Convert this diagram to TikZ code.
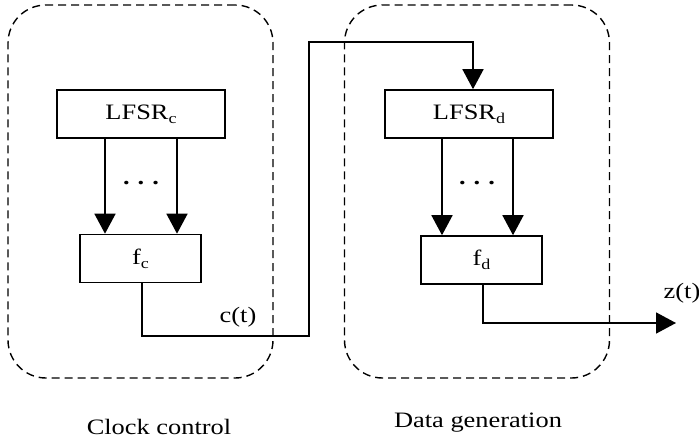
\documentclass[tikz,border=0pt]{standalone}
\usepackage{fontspec}
\setmainfont[FakeStretch=1.2]{Liberation Serif}
\usetikzlibrary{arrows.meta}
\newcommand{\lowsub}[1]{\raisebox{-0.4ex}{\fontsize{15}{15}\selectfont #1}}
\begin{document}
\begin{tikzpicture}[x=1pt,y=-1pt,
  font=\fontsize{22}{26}\selectfont,
  wire/.style={line width=1.6pt},
  arr/.style={wire,-{Triangle[width=21pt,length=20pt]}},
  blockbox/.style={draw,line width=1.6pt,minimum height=48pt,inner sep=0pt},
  groupbox/.style={draw,line width=1.4pt,dash pattern=on 8pt off 5pt,rounded corners=38pt,
    minimum width=265pt,minimum height=373pt,inner sep=0pt},
  lbl/.style={inner sep=0pt}]
\useasboundingbox (0,0) rectangle (699,441);

% dashed groups
\node[groupbox] (clkgrp) at (140.5,191.5) {};
\node[groupbox] (datgrp) at (477,191.5) {};

% blocks
\node[blockbox,minimum width=168pt] (lfsrc) at (141,114) {LFSR\lowsub{c}};
\node[blockbox,minimum width=121pt] (fc) at (140.5,258.5) {f\lowsub{c}};
\node[blockbox,minimum width=168pt] (lfsrd) at (469,114) {LFSR\lowsub{d}};
\node[blockbox,minimum width=121pt] (fd) at (481.5,260) {f\lowsub{d}};

% parallel taps
\draw[arr] (lfsrc.south -| 105,0) -- (fc.north -| 105,0);
\draw[arr] (lfsrc.south -| 177,0) -- (fc.north -| 177,0);
\draw[arr] (lfsrd.south -| 442,0) -- (fd.north -| 442,0);
\draw[arr] (lfsrd.south -| 513,0) -- (fd.north -| 513,0);
\node[lbl] (dotsc) at (141,183) {\textbf{.\hspace{8pt}.\hspace{8pt}.}};
\node[lbl] (dotsd) at (477,183) {\textbf{.\hspace{8pt}.\hspace{8pt}.}};

% clock signal from f_c to LFSR_d
\coordinate (cturn) at (309,336);
\coordinate (ctop) at (309,42);
\draw[arr] (fc.south -| 142,0) |- (cturn) -- (ctop) -| (lfsrd.north -| 473,0);
\node[lbl] (clab) at (238,317) {c(t)};

% keystream output
\coordinate (zout) at (676,323);
\draw[arr] (fd.south -| 483,0) |- (zout);
\node[lbl] (zlab) at (682,293) {z(t)};

% captions
\node[lbl] (capc) at (159,427) {Clock control};
\node[lbl] (capd) at (478,423) {Data generation};
\end{tikzpicture}
\end{document}
